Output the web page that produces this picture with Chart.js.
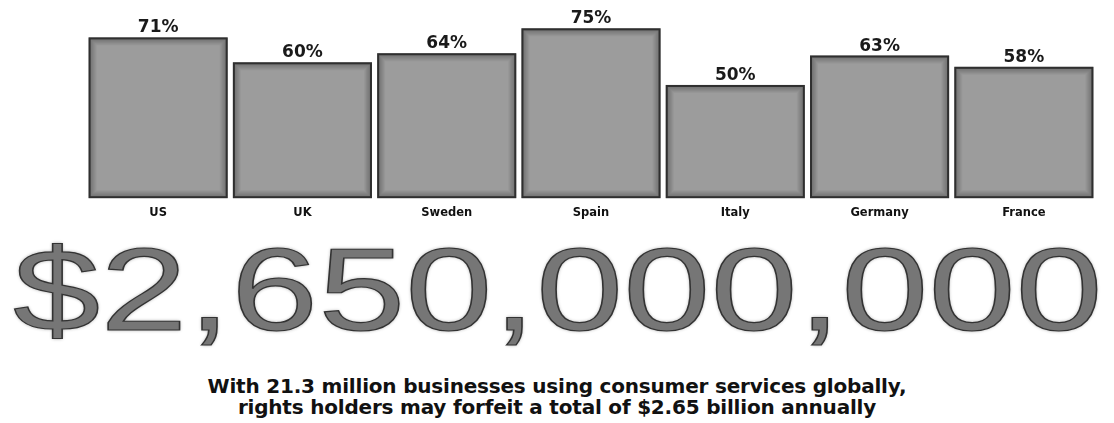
<!DOCTYPE html>
<html>
<head>
<meta charset="utf-8">
<script src="https://cdn.jsdelivr.net/npm/chart.js@4/dist/chart.umd.min.js"></script>
<style>
  html, body { margin: 0; padding: 0; background: #ffffff; width: 1114px; height: 423px; overflow: hidden; }
  #wrap { position: absolute; left: 0; top: 0; width: 1114px; height: 235px; }
  #big {
    position: absolute; left: 13px; top: 231px;
    font-family: "Liberation Sans", Arial, sans-serif; font-size: 117px; line-height: 117px;
    color: #767676; -webkit-text-stroke: 1.2px #333; white-space: nowrap;
    transform-origin: 0 0; transform: scaleX(1.34);
    text-shadow: 0 0 3px rgba(0,0,0,0.45);
  }
  #cap {
    position: absolute; left: 0; top: 376px; width: 1114px; text-align: center;
    font-family: "DejaVu Sans", "Liberation Sans", sans-serif; font-weight: bold; font-size: 20px; line-height: 21px;
    letter-spacing: -0.2px; color: #111;
  }
</style>
</head>
<body>
<div id="wrap"><canvas id="c" width="1114" height="235"></canvas></div>
<div id="big"></div>
<div id="cap"></div>
<script>
const countries = ["US", "UK", "Sweden", "Spain", "Italy", "Germany", "France"];
const shares = [71, 60, 64, 75, 50, 63, 58];
const headline = "$2,650,000,000";
const captionLines = [
  "With 21.3 million businesses using consumer services globally,",
  "rights holders may forfeit a total of $2.65 billion annually"
];

document.getElementById('big').textContent = headline;
document.getElementById('cap').innerHTML = captionLines.map(s => s.replace(/&/g,'&amp;').replace(/</g,'&lt;')).join('<br>');

const barShade = {
  id: 'barShade',
  afterDatasetsDraw(chart) {
    const ctx = chart.ctx;
    const meta = chart.getDatasetMeta(0);
    ctx.save();
    meta.data.forEach((bar, i) => {
      const p = bar.getProps(['x', 'y', 'base', 'width'], true);
      const l = p.x - p.width / 2, r = p.x + p.width / 2, t = p.y, b = p.base;
      for (let k = 1; k <= 7; k++) {
        ctx.strokeStyle = 'rgba(0,0,0,' + (0.32 * (1 - k / 8)).toFixed(3) + ')';
        ctx.lineWidth = 1;
        ctx.strokeRect(l + k + 0.5, t + k + 0.5, (r - l) - 2 * k - 1, (b - t) - 2 * k - 1);
      }
      ctx.strokeStyle = '#2f2f2f';
      ctx.lineWidth = 2;
      ctx.strokeRect(l + 1, t + 1, (r - l) - 2, (b - t) - 2);
      ctx.fillStyle = '#1a1a1a';
      ctx.font = 'bold 17px "DejaVu Sans", "Liberation Sans", sans-serif';
      ctx.textAlign = 'center';
      ctx.textBaseline = 'alphabetic';
      ctx.fillText(shares[i] + '%', p.x, t - 5);
    });
    ctx.restore();
  }
};

new Chart(document.getElementById('c'), {
  type: 'bar',
  data: {
    labels: countries,
    datasets: [{
      data: shares,
      backgroundColor: '#9c9c9c',
      borderWidth: 0,
      categoryPercentage: 1,
      barPercentage: 0.964
    }]
  },
  options: {
    responsive: false,
    animation: false,
    devicePixelRatio: 1,
    layout: { padding: { left: 86, right: 18, top: 17, bottom: 7 } },
    plugins: { legend: { display: false }, tooltip: { enabled: false }, title: { display: false } },
    scales: {
      x: {
        grid: { display: false, drawTicks: false },
        border: { display: false },
        ticks: { padding: 8, color: '#111', font: { family: '"DejaVu Sans", "Liberation Sans", sans-serif', size: 11.5, weight: 'bold' } }
      },
      y: { display: false, min: 0, max: 80 }
    }
  },
  plugins: [barShade]
});
</script>
</body>
</html>
